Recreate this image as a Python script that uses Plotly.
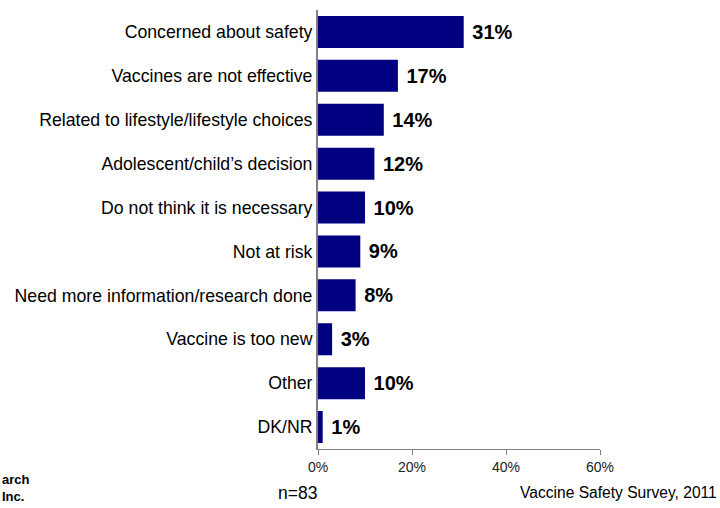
import plotly.graph_objects as go

NAVY = "#000080"
AXIS = "#808080"
FONT = "Liberation Sans, Arial, sans-serif"

reasons = [
    "Concerned about safety",
    "Vaccines are not effective",
    "Related to lifestyle/lifestyle choices",
    "Adolescent/child\u2019s decision",
    "Do not think it is necessary",
    "Not at risk",
    "Need more information/research done",
    "Vaccine is too new",
    "Other",
    "DK/NR",
]
shares = [31, 17, 14, 12, 10, 9, 8, 3, 10, 1]
x_ticks = [0, 20, 40, 60]

# plot area in pixels
L, R, T, B = 318, 600, 10, 449
W, H = R - L, B - T

fig = go.Figure(go.Bar(
    x=shares,
    y=reasons,
    orientation="h",
    marker=dict(color=NAVY, line=dict(width=0)),
    text=[f" {v}%" for v in shares],
    textposition="outside",
    textfont=dict(family=FONT, size=20, color="#000000", weight="bold"),
    cliponaxis=False,
    width=0.73,
))

fig.update_layout(
    width=720, height=508,
    plot_bgcolor="white",
    paper_bgcolor="white",
    font=dict(family=FONT, color="#000000"),
    margin=dict(l=L, r=720 - R, t=T, b=508 - B, autoexpand=False),
    showlegend=False,
    xaxis=dict(
        range=[0, 60],
        tickvals=x_ticks,
        ticktext=[f"{t}%" for t in x_ticks],
        showgrid=False, zeroline=False,
        showline=True, linecolor=AXIS, linewidth=1,
        ticks="outside", ticklen=5, tickcolor=AXIS,
        tickfont=dict(size=14, color="#222222"),
    ),
    yaxis=dict(
        autorange="reversed",
        showgrid=False, zeroline=False,
        showline=True, linecolor=AXIS, linewidth=2,
        ticks="", ticklabelstandoff=0,
        tickfont=dict(size=17.7, color="#000000"),
    ),
)


def px_x(x):
    return (x - L) / W


def px_y(y):
    return (B - y) / H


footers = [
    dict(text="n=83", x=px_x(297), y=px_y(493),
         xanchor="center", yanchor="middle", font=dict(size=17.5)),
    dict(text="Vaccine Safety Survey, 2011", x=px_x(719), y=px_y(493),
         xanchor="right", yanchor="middle", font=dict(size=15.6)),
    dict(text="<b>arch<br>Inc.</b>", x=px_x(0), y=px_y(488),
         xanchor="left", yanchor="middle", align="left", font=dict(size=13)),
]
for f in footers:
    fig.add_annotation(xref="paper", yref="paper", showarrow=False, **f)

fig.write_html("out.html", config={"displayModeBar": False},
               post_script="document.body.style.margin='0';")
